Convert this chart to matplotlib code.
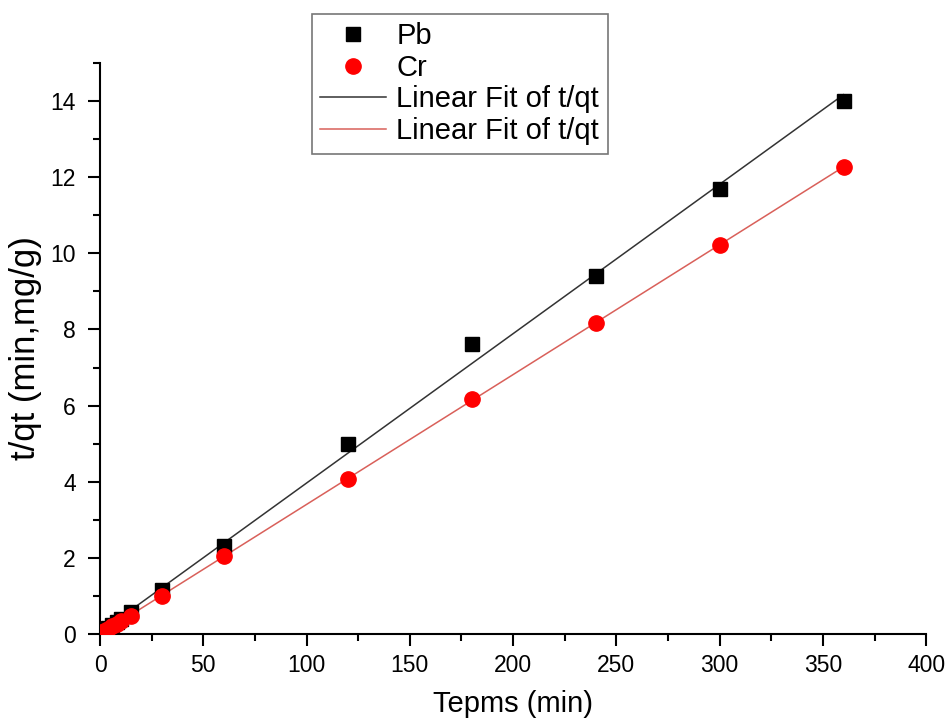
import numpy as np
import matplotlib
matplotlib.use("Agg")
import matplotlib.pyplot as plt
from matplotlib.ticker import MultipleLocator

plt.rcParams['font.family'] = ['Liberation Sans', 'DejaVu Sans']

# Contact time (min) and t/qt values for the two metals
time_min = [2, 4, 6, 8, 10, 15, 30, 60, 120, 180, 240, 300, 360]
pb_tqt = [0.08, 0.16, 0.23, 0.31, 0.39, 0.58, 1.16, 2.31, 4.99, 7.62, 9.40, 11.69, 14.00]
cr_tqt = [0.07, 0.14, 0.20, 0.27, 0.34, 0.47, 1.00, 2.05, 4.07, 6.17, 8.17, 10.22, 12.27]

t = np.array(time_min, dtype=float)
pb = np.array(pb_tqt)
cr = np.array(cr_tqt)

# Pseudo-second-order linear fits
pb_fit = np.polyfit(t, pb, 1)
cr_fit = np.polyfit(t, cr, 1)
t_line = np.linspace(0, t.max(), 200)

fig = plt.figure(figsize=(9.47, 7.22), dpi=100)
ax = fig.add_axes([0.1056, 0.1219, 0.8724, 0.7908])

ax.plot(t, pb, linestyle='none', marker='s', markersize=10, color='black', label='Pb', zorder=3)
ax.plot(t, cr, linestyle='none', marker='o', markersize=11, color='#ff0000', label='Cr', zorder=3)
ax.plot(t_line, np.polyval(pb_fit, t_line), color='#333333', linewidth=1.1,
        label='Linear Fit of t/qt', zorder=2)
ax.plot(t_line, np.polyval(cr_fit, t_line), color='#d9605a', linewidth=1.1,
        label='Linear Fit of t/qt', zorder=2)

ax.set_xlim(0, 400)
ax.set_ylim(0, 15)
ax.xaxis.set_major_locator(MultipleLocator(50))
ax.xaxis.set_minor_locator(MultipleLocator(25))
ax.yaxis.set_major_locator(MultipleLocator(2))
ax.yaxis.set_minor_locator(MultipleLocator(1))

for side in ('top', 'right'):
    ax.spines[side].set_visible(False)
for side in ('left', 'bottom'):
    ax.spines[side].set_linewidth(1.5)

ax.tick_params(which='major', direction='out', length=8.5, width=1.5, labelsize=16.5)
ax.tick_params(which='minor', direction='out', length=5, width=1.5)
ax.tick_params(axis='x', which='major', pad=6)
ax.tick_params(axis='y', which='major', pad=9)

ax.set_xlabel('Tepms (min)', fontsize=21, labelpad=9)
ax.set_ylabel('t/qt (min,mg/g)', fontsize=25, labelpad=6)

leg = fig.legend(loc='upper left', bbox_to_anchor=(0.329, 0.981), fontsize=21,
                 frameon=True, fancybox=False, edgecolor='#555555',
                 handlelength=2.25, handletextpad=0.35, borderpad=0.3,
                 borderaxespad=0, labelspacing=0.12)
leg.get_frame().set_linewidth(1.2)

fig.savefig('out.png', dpi=100)
